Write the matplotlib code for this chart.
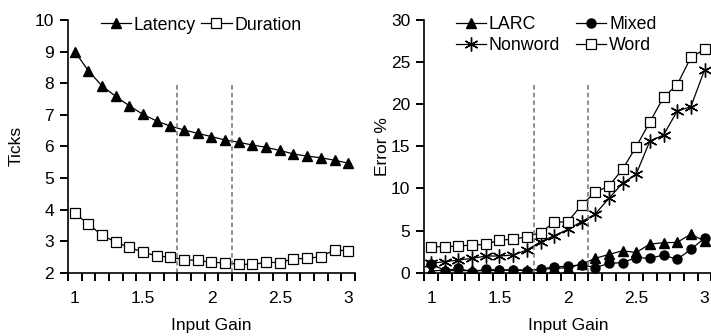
import numpy as np
import matplotlib.pyplot as plt
from matplotlib.ticker import FixedLocator, FixedFormatter, NullFormatter

plt.rcParams['font.family'] = ['Liberation Sans', 'DejaVu Sans']
plt.rcParams['font.size'] = 12.5

gain = [1.0, 1.1, 1.2, 1.3, 1.4, 1.5, 1.6, 1.7, 1.8, 1.9, 2.0,
        2.1, 2.2, 2.3, 2.4, 2.5, 2.6, 2.7, 2.8, 2.9, 3.0]

latency = [9.0, 8.39, 7.91, 7.58, 7.28, 7.01, 6.80, 6.64, 6.52, 6.41, 6.31,
           6.20, 6.13, 6.04, 5.97, 5.87, 5.76, 5.69, 5.64, 5.56, 5.47]
duration = [3.88, 3.54, 3.18, 2.97, 2.80, 2.65, 2.53, 2.49, 2.41, 2.39, 2.33,
            2.31, 2.27, 2.26, 2.33, 2.32, 2.44, 2.45, 2.51, 2.72, 2.69]

larc = [0.2, 0.3, 0.2, 0.3, 0.2, 0.3, 0.35, 0.3, 0.4, 0.5, 0.6,
        1.0, 1.7, 2.17, 2.6, 2.4, 3.4, 3.56, 3.6, 4.58, 3.75]
mixed = [1.05, 0.25, 0.5, 0.1, 0.4, 0.3, 0.3, 0.25, 0.4, 0.7, 0.75,
         0.95, 0.6, 1.1, 1.2, 1.8, 1.7, 2.1, 1.58, 2.77, 4.1]
nonword = [1.11, 1.31, 1.50, 1.70, 1.98, 1.98, 2.10, 2.69, 3.68, 4.39, 5.14,
           6.05, 6.96, 8.82, 10.61, 11.71, 15.63, 16.34, 19.19, 19.71, 24.06]
word = [3.09, 3.09, 3.17, 3.28, 3.36, 3.88, 3.96, 4.27, 4.75, 5.98, 6.05,
        8.03, 9.54, 10.29, 12.27, 14.96, 17.89, 20.82, 22.32, 25.56, 26.51]

regions = [1.75, 2.15]
xticklabels = ['1', '1.5', '2', '2.5', '3']
xticks = [1, 1.5, 2, 2.5, 3]

fig = plt.figure(figsize=(7.11, 3.36), dpi=100)
ax1 = fig.add_axes([0.0956, 0.1884, 0.4037, 0.752])
ax2 = fig.add_axes([0.5968, 0.1884, 0.4037, 0.752])

lw = 0.9
ax1.plot(gain, latency, '-^', color='black', lw=lw, ms=7, label='Latency')
ax1.plot(gain, duration, '-s', color='black', mfc='white', lw=lw, ms=6.5,
         mew=0.9, label='Duration')

star = (6, 2, 0)
l_larc, = ax2.plot(gain, larc, '-^', color='black', lw=lw, ms=7, label='LARC')
l_mixed, = ax2.plot(gain, mixed, '-o', color='black', lw=lw, ms=6.5, label='Mixed')
l_non, = ax2.plot(gain, nonword, '-', marker=star, color='black', lw=lw, ms=10,
                  mew=1.0, label='Nonword')
l_word, = ax2.plot(gain, word, '-s', color='black', mfc='white', lw=lw, ms=6.5,
                   mew=0.9, label='Word')

for ax in (ax1, ax2):
    ax.set_xlim(0.95, 3.05)
    for s in ('top', 'right'):
        ax.spines[s].set_visible(False)
    ax.spines['left'].set_linewidth(1.2)
    ax.spines['bottom'].set_linewidth(1.2)
    ax.patch.set_alpha(0)
    ax.set_xlabel('Input Gain', labelpad=9)
    # tick marks between categories, labels on the categories
    ax.xaxis.set_major_locator(FixedLocator(np.arange(0.95, 3.06, 0.1)))
    ax.xaxis.set_major_formatter(NullFormatter())
    ax.xaxis.set_minor_locator(FixedLocator(xticks))
    ax.xaxis.set_minor_formatter(FixedFormatter(xticklabels))
    ax.tick_params(axis='x', which='major', length=6, width=1.3,
                   color='black', direction='out', bottom=True)
    ax.tick_params(axis='x', which='minor', length=0, pad=13)

ax1.set_ylim(2, 10)
ax1.set_yticks(range(2, 11))
ax1.set_ylabel('Ticks', labelpad=8)
ax2.set_ylim(0, 30)
ax2.set_yticks(range(0, 31, 5))
ax2.set_ylabel('Error %', labelpad=1)
for ax in (ax1, ax2):
    ax.tick_params(axis='y', which='major', length=6, width=1.3,
                   color='black', direction='out', pad=4, left=True)
    # tick marks again as short segments at the locator positions
    xt = ax.xaxis.get_majorticklocs()
    ax.vlines(xt, -0.033, 0, transform=ax.get_xaxis_transform(),
              colors='black', lw=1.2, clip_on=False)
    yt = ax.yaxis.get_majorticklocs()
    ax.hlines(yt, -0.029, 0, transform=ax.get_yaxis_transform(),
              colors='black', lw=1.2, clip_on=False)

ax1.vlines(regions, 2, 8, colors='#707070', linestyles=(0, (3, 2)), lw=1.1)
ax2.vlines(regions, 0, 22.5, colors='#707070', linestyles=(0, (3, 2)), lw=1.1)

ax1.legend(loc='center left', bbox_to_anchor=(0.115, 0.98), ncol=2,
           frameon=False, handlelength=1.7, handletextpad=0.15,
           columnspacing=0.3, borderaxespad=0, borderpad=0, fontsize=12.8)
ax2.legend([l_larc, l_non, l_mixed, l_word],
           ['LARC', 'Nonword', 'Mixed', 'Word'],
           loc='upper left', bbox_to_anchor=(0.11, 1.017), ncol=2,
           frameon=False, handlelength=1.7, handletextpad=0.15,
           columnspacing=0.9, borderaxespad=0, borderpad=0,
           labelspacing=0.25, fontsize=12.8)

fig.savefig('out.png', dpi=100)
